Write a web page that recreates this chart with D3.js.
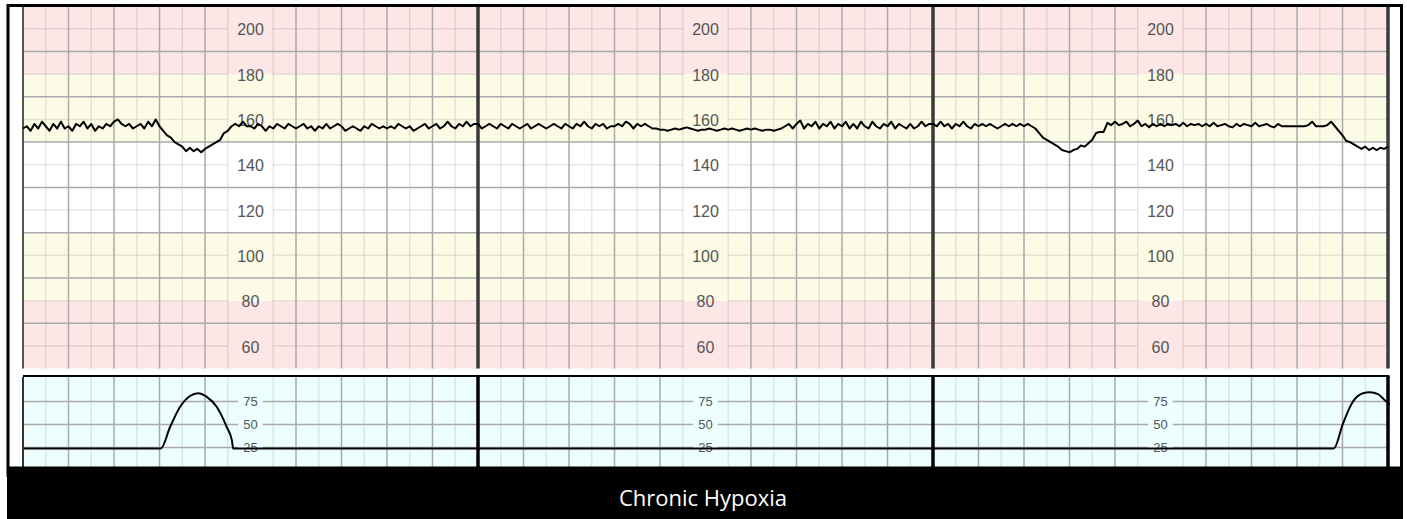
<!DOCTYPE html>
<html>
<head>
<meta charset="utf-8">
<script src="https://cdn.jsdelivr.net/npm/d3@7"></script>
<style>
  body { margin: 0; background: #fff; }
</style>
</head>
<body>
<div id="ctg"></div>
<script>
var w = 1407;
var h = 519;

// fetal heart rate (bpm), one reading every 5 s, 0 - 30 min
var fhrStep = 5 / 60; // minutes between readings
var fhr = [
  156, 157, 155, 158, 156, 159, 157, 155, 158, 156, 159, 156,
  157, 155, 158, 157, 159, 156, 158, 155, 157, 156, 158, 157,
  159, 160, 158, 157, 158, 156, 157, 158, 156, 159, 157, 160,
  157, 155, 153, 152, 150, 149, 148, 146, 147.5, 146, 147, 145.5,
  147, 148, 149, 150, 151, 154, 155, 157, 158, 157, 159, 157,
  157, 156, 158, 157, 155, 157, 156, 158, 157, 156, 158, 157,
  156, 157, 158, 156, 157, 155, 157, 156, 158, 156, 157, 158,
  157, 155, 156, 157, 156, 155, 157, 156, 158, 157, 156, 157,
  156, 157, 156, 158, 157, 156, 157, 155, 156, 157, 158, 156,
  157, 158, 156, 157, 159, 157, 156, 158, 157, 159, 157, 158,
  158, 156, 157, 158, 157, 156, 158, 157, 156, 158, 157, 156,
  157, 158, 156, 157, 158, 157, 156, 157, 158, 157, 156, 158,
  157, 156, 158, 157, 159, 157, 156, 158, 157, 158, 156, 157,
  157, 158, 157, 159, 158, 156, 158, 157, 158, 157, 156, 156,
  155.5, 155.5, 155, 155.5, 156, 155.5, 156, 156.5, 156, 155.5, 155, 155.5,
  155.5, 156, 155.5, 155, 155.5, 156, 155.5, 156, 155.5, 155, 155.5, 156,
  155.5, 156, 155.5, 155, 155.5, 155.5, 155, 155.5, 156, 157, 158, 156,
  158, 159.5, 156, 158, 157, 159, 156, 158, 157, 159, 156, 158,
  157, 159, 156, 158, 156, 159, 157, 156, 159, 157, 156, 158,
  157, 159, 156, 158, 157, 156, 158, 156, 157, 159, 157, 158,
  158, 157, 159, 157, 158, 156, 158, 157, 159, 157, 156, 158,
  157, 158, 157, 158, 157, 156, 157, 158, 157, 158, 157, 158,
  157, 158, 157, 156, 154, 152, 151, 150, 149, 148, 146.5, 146,
  145.5, 146.5, 147, 148.5, 148, 149.5, 151, 154, 154.5, 154.5, 158.5, 157.5,
  159, 157.5, 158, 159, 157, 158, 159.5, 157, 158, 156.5, 158, 157,
  158, 157, 158, 157.5, 158, 157, 158.5, 157, 158, 157.5, 158, 157,
  158, 157, 158.5, 157, 157.5, 158, 157, 156.5, 158, 157, 158, 157.5,
  157, 158.5, 157, 157.5, 158, 157, 156.5, 158, 157, 157, 157, 157,
  157, 157, 157, 157.5, 159, 157, 157, 157, 157.5, 159, 157, 155,
  153, 150.5, 150, 149, 148, 147, 148, 146.5, 147.5, 146.5, 147.5, 147,
  148
];

// uterine activity (toco), minutes / value
var tocoTime  = [0, 3.03, 3.23, 3.45, 3.67, 3.85, 4.04, 4.26, 4.48, 4.59, 4.62, 28.81, 29.01, 29.23, 29.45, 29.6, 29.78, 29.96, 30.1];
var tocoValue = [24, 24, 47, 69, 81, 84, 80, 69, 47, 33, 24, 24, 51, 75, 84, 85, 83, 75, 71];

var fhrTicks = [60, 80, 100, 120, 140, 160, 180, 200];
var fhrMajor = [70, 90, 110, 130, 150, 170, 190];
var tocoTicks = [25, 50, 75];
var labelMinutes = [5, 15, 25];
var panelMinutes = [10, 20, 30];
var bandLimits = [[50, 80], [80, 110], [110, 150], [150, 180], [180, 210]];
var title = "Chronic Hypoxia";

var bandColors = ["#fce6e6", "#fbfbe6", "#ffffff", "#fbfbe6", "#fce6e6"];
var majorColor = "#aaaaaa", minorColor = "rgba(0,0,0,0.09)";

var svg = d3.select("#ctg")
    .append("svg")
    .attr("width", w)
    .attr("height", h);

var x = d3.scaleLinear().domain([0, 30]).range([23, 1388]);
var yF = d3.scaleLinear().domain([50, 210]).range([368.6, 6.2]);
var yT = d3.scaleLinear().domain([0, 100]).range([470.5, 378.5]);

var minorMin = d3.range(0.5, 30, 1);
var majorMin = d3.range(1, 30).filter(function(m) { return m % 5 != 0; });

// segments of a row that skip the label columns
function gapSegments(halfWidth) {
  var segs = [], start = 0;
  labelMinutes.forEach(function(m) {
    segs.push([start, m - halfWidth]);
    start = m + halfWidth;
  });
  segs.push([start, 30]);
  return segs;
}

function vLines(g, mins, y0, y1, color, width) {
  g.selectAll(null).data(mins).enter().append("line")
    .attr("x1", function(d) { return x(d); })
    .attr("x2", function(d) { return x(d); })
    .attr("y1", y0).attr("y2", y1)
    .attr("stroke", color).attr("stroke-width", width);
}

function hLines(g, vals, y, segs, color, width) {
  vals.forEach(function(v) {
    g.selectAll(null).data(segs).enter().append("line")
      .attr("x1", function(s) { return x(s[0]); })
      .attr("x2", function(s) { return x(s[1]); })
      .attr("y1", y(v)).attr("y2", y(v))
      .attr("stroke", color).attr("stroke-width", width);
  });
}

// ---------- heart rate panel ----------
var fhrG = svg.append("g");
var fTop = yF(210), fBot = yF(50);

fhrG.selectAll(".band").data(bandLimits).enter().append("rect")
  .attr("x", x(0)).attr("width", x(30) - x(0))
  .attr("y", function(d) { return yF(d[1]); })
  .attr("height", function(d) { return yF(d[0]) - yF(d[1]); })
  .attr("fill", function(d, i) { return bandColors[i]; });

vLines(fhrG, minorMin, fTop, fBot, minorColor, 1.5);
hLines(fhrG, fhrTicks, yF, gapSegments(0.5), minorColor, 1.5);
hLines(fhrG, fhrMajor, yF, [[0, 30]], majorColor, 1.5);
vLines(fhrG, majorMin, fTop, fBot, majorColor, 1.5);
vLines(fhrG, [0], fTop, fBot, "#555", 2);
vLines(fhrG, panelMinutes, fTop, fBot, "#3a3a3a", 3.5);

labelMinutes.forEach(function(m) {
  fhrG.selectAll(null).data(fhrTicks).enter().append("text")
    .attr("x", x(m))
    .attr("y", function(d) { return yF(d) + 1; })
    .attr("text-anchor", "middle")
    .attr("dy", "0.35em")
    .attr("fill", "#555")
    .style("font-family", "'Liberation Sans', Arial, sans-serif")
    .style("font-size", "16px")
    .text(function(d) { return d; });
});

var fhrLine = d3.line()
  .x(function(d, i) { return x(i * fhrStep); })
  .y(function(d) { return yF(d); });

fhrG.append("path")
  .datum(fhr)
  .attr("fill", "none")
  .attr("stroke", "#000")
  .attr("stroke-width", 2)
  .attr("stroke-linejoin", "round")
  .attr("d", fhrLine);

// ---------- toco panel ----------
svg.append("clipPath").attr("id", "tocoClip")
  .append("rect")
  .attr("x", x(0)).attr("y", 377)
  .attr("width", x(30) - x(0) + 2).attr("height", 90);

var tocoG = svg.append("g").attr("clip-path", "url(#tocoClip)");
var tTop = 377, tBot = 467;

tocoG.append("rect")
  .attr("x", x(0)).attr("y", tTop)
  .attr("width", x(30) - x(0)).attr("height", tBot - tTop)
  .attr("fill", "#ecfefe");

vLines(tocoG, minorMin, tTop, tBot, minorColor, 1.5);
vLines(tocoG, majorMin, tTop, tBot, majorColor, 1.5);
hLines(tocoG, tocoTicks, yT, gapSegments(0.27), majorColor, 1.5);

labelMinutes.forEach(function(m) {
  tocoG.selectAll(null).data(tocoTicks).enter().append("text")
    .attr("x", x(m))
    .attr("y", function(d) { return yT(d); })
    .attr("text-anchor", "middle")
    .attr("dy", "0.35em")
    .attr("fill", "#555")
    .style("font-family", "'Liberation Sans', Arial, sans-serif")
    .style("font-size", "13px")
    .text(function(d) { return d; });
});

var tocoLine = d3.line()
  .curve(d3.curveMonotoneX)
  .x(function(d) { return x(d[0]); })
  .y(function(d) { return yT(d[1]); });

tocoG.append("path")
  .datum(d3.zip(tocoTime, tocoValue))
  .attr("fill", "none")
  .attr("stroke", "#000")
  .attr("stroke-width", 2)
  .attr("d", tocoLine);

vLines(svg, [0], tTop, tBot, "#333", 2);
vLines(svg, panelMinutes, tTop - 1, tBot, "#000", 3.5);
svg.append("line")
  .attr("x1", x(0)).attr("x2", x(30) + 1.5)
  .attr("y1", 376).attr("y2", 376)
  .attr("stroke", "#000").attr("stroke-width", 2);

// ---------- frame and caption ----------
svg.append("rect")
  .attr("x", 8).attr("y", 5.5)
  .attr("width", 1393.5).attr("height", 470)
  .attr("fill", "none")
  .attr("stroke", "#000")
  .attr("stroke-width", 3);

svg.append("rect")
  .attr("x", 7).attr("y", 466.5)
  .attr("width", 1396).attr("height", h - 466.5)
  .attr("fill", "#000");

svg.append("text")
  .attr("x", 703).attr("y", 505.5)
  .attr("text-anchor", "middle")
  .attr("fill", "#fff")
  .style("font-family", "'Open Sans', sans-serif")
  .style("font-size", "22px")
  .text(title);
</script>
</body>
</html>
